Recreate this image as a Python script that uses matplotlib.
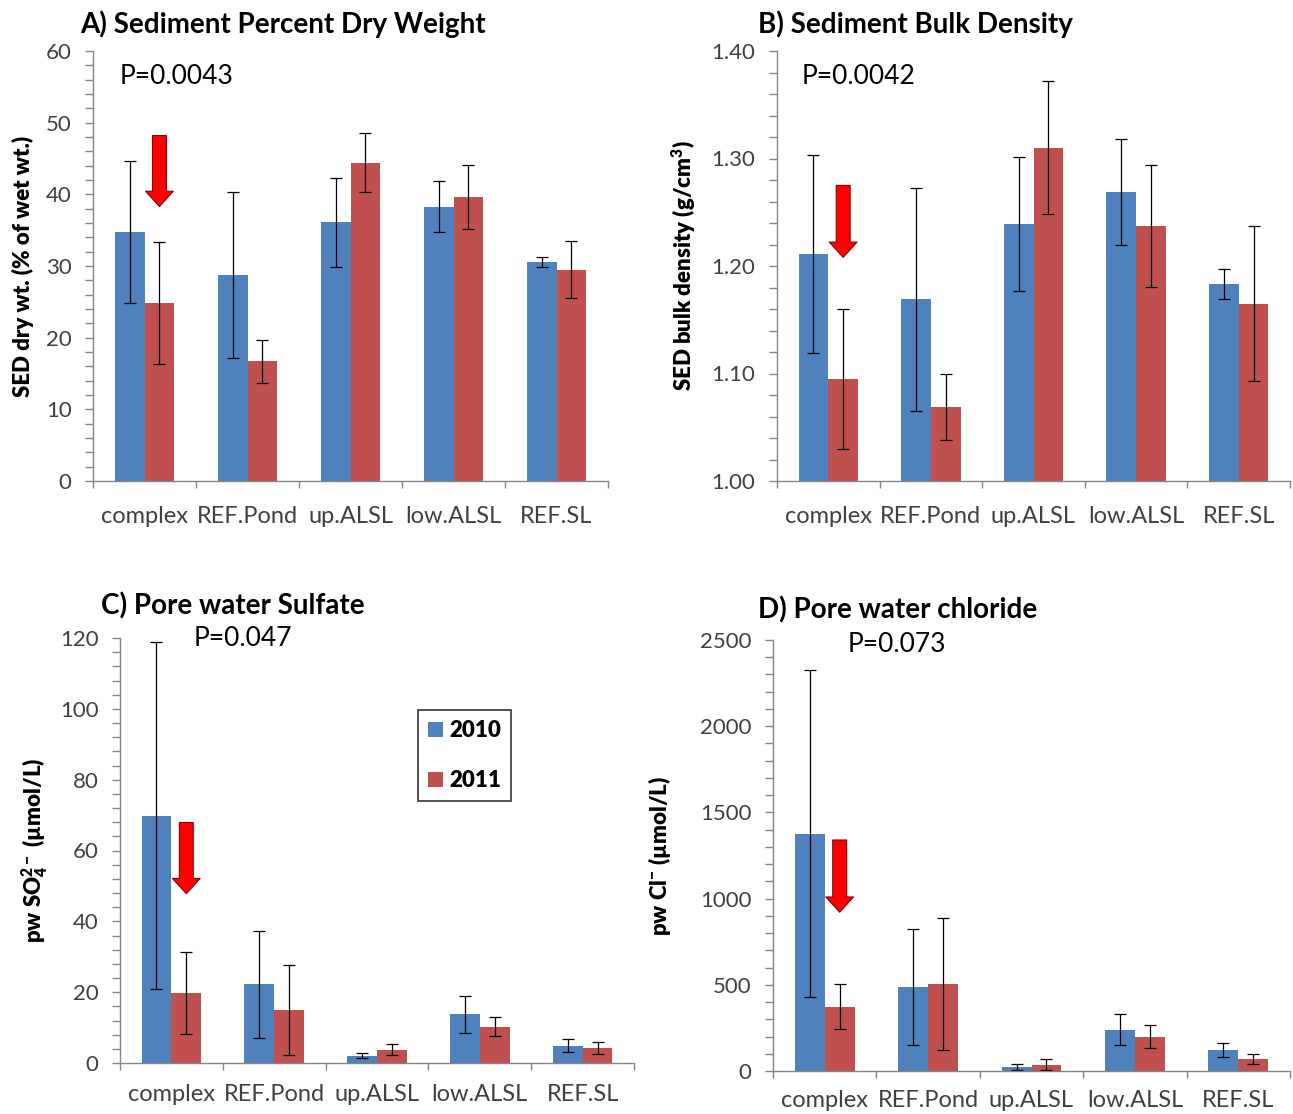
import numpy as np
import matplotlib.pyplot as plt
from matplotlib.ticker import MultipleLocator, FormatStrFormatter

plt.rcParams['font.family'] = ['Lato', 'DejaVu Sans']
plt.rcParams['mathtext.default'] = 'regular'

sites = ['complex', 'REF.Pond', 'up.ALSL', 'low.ALSL', 'REF.SL']
years = ['2010', '2011']

# A) sediment percent dry weight
dry_2010 = [34.7, 28.7, 36.1, 38.3, 30.5]
dry_2010_err = [9.9, 11.6, 6.2, 3.5, 0.7]
dry_2011 = [24.8, 16.7, 44.4, 39.6, 29.5]
dry_2011_err = [8.5, 3.0, 4.1, 4.5, 4.0]

# B) sediment bulk density
bd_2010 = [1.211, 1.169, 1.239, 1.269, 1.183]
bd_2010_err = [0.092, 0.104, 0.062, 0.049, 0.014]
bd_2011 = [1.095, 1.069, 1.310, 1.237, 1.165]
bd_2011_err = [0.065, 0.031, 0.062, 0.057, 0.072]

# C) pore water sulfate
so4_2010 = [69.8, 22.3, 2.1, 13.7, 4.9]
so4_2010_err = [49.0, 15.1, 0.8, 5.3, 1.85]
so4_2011 = [19.8, 15.1, 3.8, 10.3, 4.2]
so4_2011_err = [11.5, 12.7, 1.6, 2.6, 1.6]

# D) pore water chloride
cl_2010 = [1377, 487, 22, 240, 121]
cl_2010_err = [950, 336, 19, 88, 40]
cl_2011 = [372, 507, 36, 198, 69]
cl_2011_err = [131, 383, 32, 66, 28]

blue = '#4F81BD'
red = '#C0504D'
gray = '#868686'
txt = '#404040'


def panel(rect, v1, e1, v2, e2, ymax, ymin, major, minor, fmt, title, title_xy,
          ptxt, p_xy, ylabel, ylab_x, arrow, xpad):
    ax = fig.add_axes(rect)
    x = np.arange(len(sites))
    w = 0.29
    ax.bar(x - w / 2, np.array(v1) - ymin, w, bottom=ymin, color=blue, label=years[0])
    ax.bar(x + w / 2, np.array(v2) - ymin, w, bottom=ymin, color=red, label=years[1])
    ax.errorbar(x - w / 2, v1, yerr=e1, fmt='none', ecolor='black', elinewidth=0.9, capsize=4, capthick=0.9)
    ax.errorbar(x + w / 2, v2, yerr=e2, fmt='none', ecolor='black', elinewidth=0.9, capsize=4, capthick=0.9)
    ax.set_xlim(-0.5, len(sites) - 0.5)
    ax.set_ylim(ymin, ymax)
    for s in ['top', 'right']:
        ax.spines[s].set_visible(False)
    for s in ['left', 'bottom']:
        ax.spines[s].set_color(gray)
        ax.spines[s].set_linewidth(1.0)
    ax.yaxis.set_major_locator(MultipleLocator(major))
    ax.yaxis.set_minor_locator(MultipleLocator(minor))
    ax.yaxis.set_major_formatter(FormatStrFormatter(fmt))
    ax.tick_params(axis='y', which='both', direction='out', length=5.5, width=1, color=gray,
                   labelsize=16, labelcolor=txt, pad=10)
    ax.set_xticks(x)
    ax.set_xticklabels(sites)
    ax.set_xticks(np.arange(-0.5, len(sites)), minor=True)
    ax.tick_params(axis='x', which='major', length=0, labelsize=17, labelcolor=txt, pad=xpad)
    ax.tick_params(axis='x', which='minor', direction='out', length=5, width=1, color=gray)
    fig.text(title_xy[0] / W, 1 - title_xy[1] / H, title, fontsize=20, fontweight='bold',
             va='center', ha='left')
    fig.text(p_xy[0] / W, 1 - p_xy[1] / H, ptxt, fontsize=19, va='center', ha='left')
    ax.set_ylabel(ylabel, fontsize=16, fontweight='heavy')
    ax.yaxis.set_label_coords(ylab_x, 0.5)
    ax.annotate('', xy=(w / 2, arrow[1]), xytext=(w / 2, arrow[0]),
                arrowprops=dict(arrowstyle='simple,head_width=2.0,head_length=1.1,tail_width=1.0',
                                fc='#FF0000', ec='#8B0000', lw=0.8, mutation_scale=10,
                                shrinkA=0, shrinkB=0))
    return ax


W, H = 1293, 1114
fig = plt.figure(figsize=(W / 100, H / 100), dpi=100)


def rect(l, r, t, b):
    return [l / W, 1 - b / H, (r - l) / W, (b - t) / H]


panel(rect(93, 608, 51, 481), dry_2010, dry_2010_err, dry_2011, dry_2011_err,
      60, 0, 10, 2, '%d', 'A) Sediment Percent Dry Weight', (80, 24),
      'P=0.0043', (120, 76), 'SED dry wt. (% of wet wt.)', -0.114, (48.2, 38.3), 18)

panel(rect(777, 1290, 51, 481), bd_2010, bd_2010_err, bd_2011, bd_2011_err,
      1.40, 1.00, 0.10, 0.02, '%.2f', 'B) Sediment Bulk Density', (758, 24),
      'P=0.0042', (802, 76), 'SED bulk density (g/cm$^3$)', -0.154, (1.275, 1.208), 18)

axc = panel(rect(120, 634, 638, 1063), so4_2010, so4_2010_err, so4_2011, so4_2011_err,
            120, 0, 20, 4, '%d', 'C) Pore water Sulfate', (101, 606),
            'P=0.047', (194, 639), 'pw SO$_4^{2-}$ (µmol/L)', -0.136, (67.9, 47.8), 15)
leg = axc.legend(loc='upper left', bbox_to_anchor=(0.580, 0.830), borderaxespad=0,
                 frameon=True, fancybox=False, edgecolor='black',
                 handlelength=0.65, handleheight=0.65, labelspacing=1.3,
                 handletextpad=0.3, borderpad=0.45, prop={'weight': 'heavy', 'size': 16})
leg.get_frame().set_linewidth(1.2)

panel(rect(773, 1290, 640, 1071), cl_2010, cl_2010_err, cl_2011, cl_2011_err,
      2500, 0, 500, 100, '%d', 'D) Pore water chloride', (758, 610),
      'P=0.073', (848, 645), 'pw Cl$^{-}$ (µmol/L)', -0.193, (1340, 921), 14)

fig.savefig('out.png', dpi=100)
